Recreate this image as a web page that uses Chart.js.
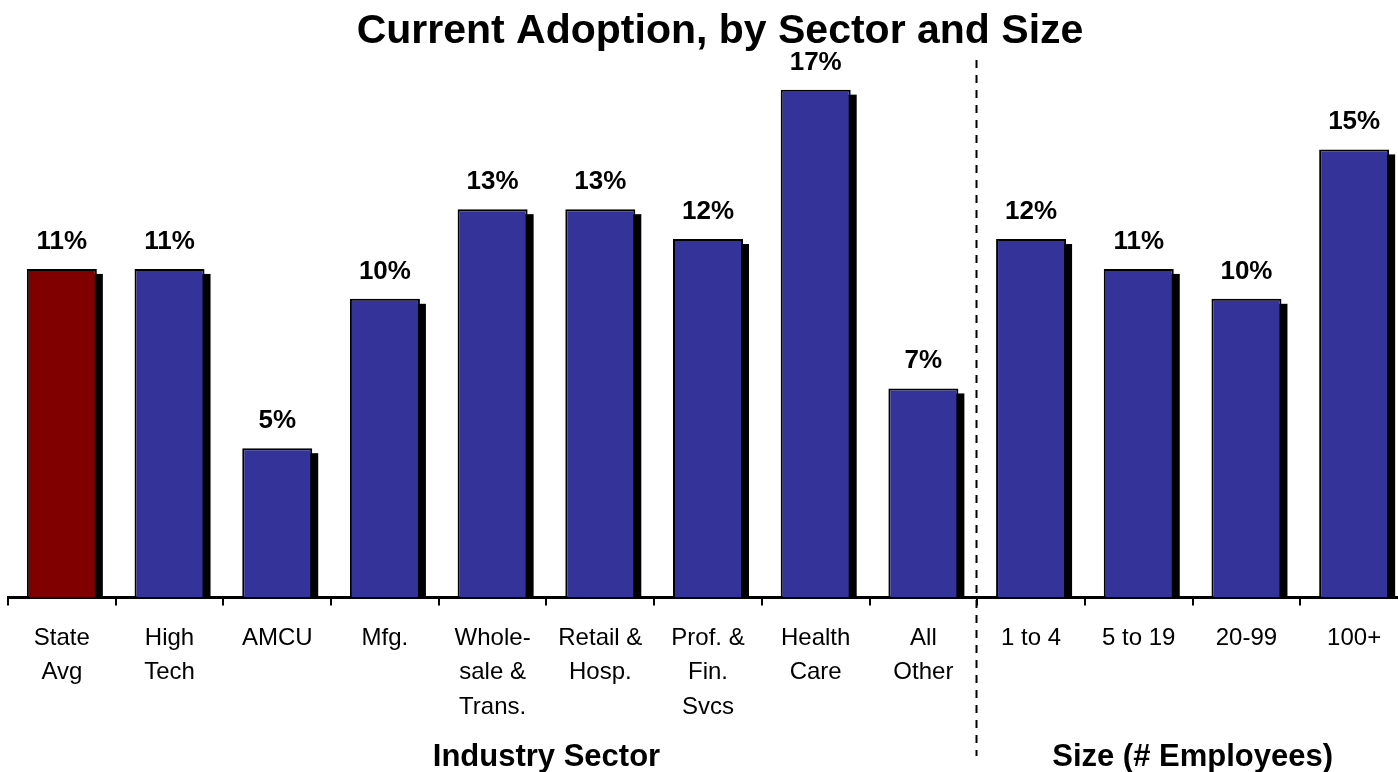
<!DOCTYPE html>
<html>
<head>
<meta charset="utf-8">
<script src="https://cdn.jsdelivr.net/npm/chart.js@4/dist/chart.umd.min.js"></script>
<style>
  html, body { margin: 0; padding: 0; background: #fff; overflow: hidden; }
  #wrap { position: absolute; left: 0; top: 0; width: 1408px; height: 772px; }
</style>
</head>
<body>
<div id="wrap"><canvas id="c" width="1408" height="772"></canvas></div>
<script>
// ---- data ----
const categories = [
  ["State", "Avg"], ["High", "Tech"], "AMCU", "Mfg.", ["Whole-", "sale &", "Trans."],
  ["Retail &", "Hosp."], ["Prof. &", "Fin.", "Svcs"], ["Health", "Care"], ["All", "Other"],
  "1 to 4", "5 to 19", "20-99", "100+"
];
const adoptionPct = [11, 11, 5, 10, 13, 13, 12, 17, 7, 12, 11, 10, 15];
const barColors = ["#800000", "#333399", "#333399", "#333399", "#333399", "#333399", "#333399",
                   "#333399", "#333399", "#333399", "#333399", "#333399", "#333399"];
const chartTitle = "Current Adoption, by Sector and Size";
const groupTitles = ["Industry Sector", "Size (# Employees)"];
const groupCenters = [4.5, 10.5];   // category positions (index units) of group titles
const groupDivider = 8.5;          // between "All Other" and "1 to 4"

const FONT = "'Liberation Sans', Arial, sans-serif";

const shadowPlugin = {
  id: 'barShadow',
  beforeDatasetsDraw(chart) {
    const ctx = chart.ctx;
    const meta = chart.getDatasetMeta(0);
    const area = chart.chartArea;
    ctx.save();
    ctx.beginPath();
    ctx.rect(area.left, area.top, area.right - area.left + 20, area.bottom - area.top);
    ctx.clip();
    ctx.fillStyle = '#000';
    meta.data.forEach(bar => {
      const w = bar.width;
      ctx.fillRect(bar.x - w / 2 + 6, bar.y + 5, w, bar.base - bar.y);
    });
    ctx.restore();
  }
};

const decorPlugin = {
  id: 'decor',
  afterDraw(chart) {
    const ctx = chart.ctx;
    const xs = chart.scales.x;
    const meta = chart.getDatasetMeta(0);
    ctx.save();
    // value labels
    ctx.fillStyle = '#000';
    ctx.font = "bold 26px " + FONT;
    ctx.textAlign = 'center';
    ctx.textBaseline = 'alphabetic';
    meta.data.forEach((bar, i) => {
      ctx.fillText(adoptionPct[i] + '%', bar.x, bar.y - 20);
    });
    // title
    ctx.font = "bold 41px " + FONT;
    ctx.fillText(chartTitle, 720, 43);
    // group titles
    ctx.font = "bold 31px " + FONT;
    groupTitles.forEach((t, i) => {
      ctx.fillText(t, xs.getPixelForValue(groupCenters[i]), 766);
    });
    // divider
    const dx = Math.round(xs.getPixelForValue(groupDivider)) - 0.5;
    ctx.strokeStyle = '#000';
    ctx.lineWidth = 2;
    ctx.setLineDash([8, 7]);
    ctx.beginPath();
    ctx.moveTo(dx, 60);
    ctx.lineTo(dx, 756);
    ctx.stroke();
    ctx.restore();
  }
};

new Chart(document.getElementById('c'), {
  type: 'bar',
  data: {
    labels: categories,
    datasets: [{
      data: adoptionPct,
      backgroundColor: barColors,
      borderColor: '#000',
      borderWidth: 2,
      borderSkipped: 'bottom',
      barPercentage: 0.65,
      categoryPercentage: 1.0
    }]
  },
  options: {
    responsive: false,
    animation: false,
    events: [],
    layout: { padding: { left: 8, right: 0, top: 0, bottom: 32 } },
    plugins: { legend: { display: false }, tooltip: { enabled: false }, title: { display: false } },
    scales: {
      y: { display: false, min: 0, max: 20 },
      x: {
        grid: { drawOnChartArea: false, drawTicks: true, tickLength: 8, color: '#000', lineWidth: 2, offset: true },
        border: { display: true, color: '#000', width: 3 },
        ticks: {
          color: '#000',
          padding: 15,
          maxRotation: 0,
          autoSkip: false,
          font: { family: FONT, size: 24, lineHeight: 1.45 }
        }
      }
    }
  },
  plugins: [shadowPlugin, decorPlugin]
});
</script>
</body>
</html>
